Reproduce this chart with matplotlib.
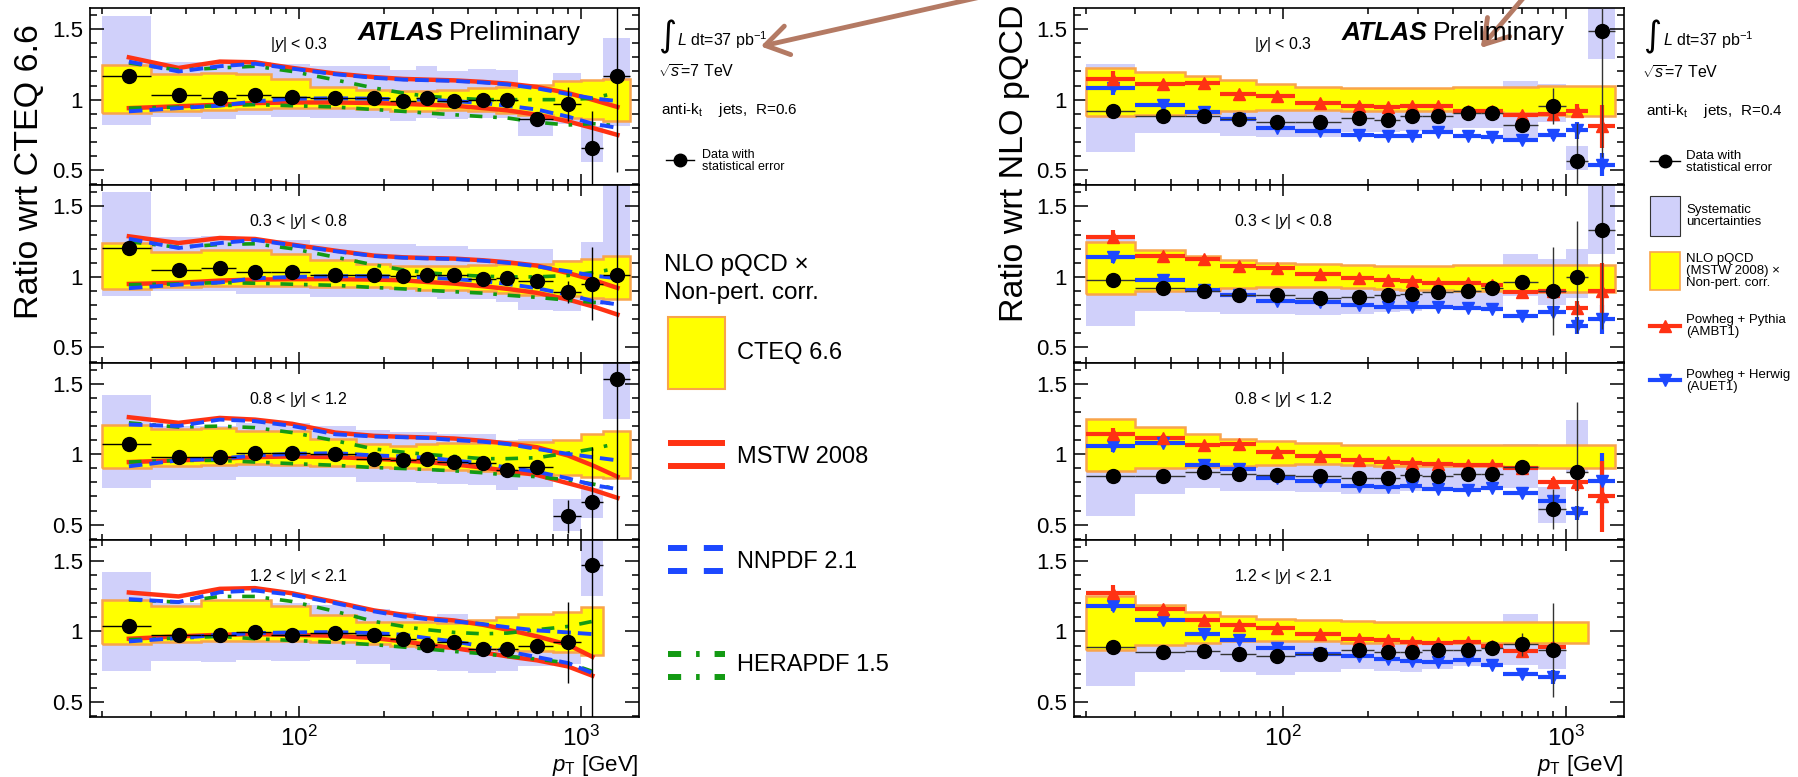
import numpy as np
import matplotlib
matplotlib.use("Agg")
import matplotlib.pyplot as plt
from matplotlib.ticker import FixedLocator, MultipleLocator, NullFormatter, FuncFormatter, LogLocator
from matplotlib.patches import Rectangle, FancyArrowPatch

nan = np.nan

# pT bins (GeV)
edges = [20, 30, 45, 60, 80, 110, 160, 210, 260, 310, 400, 500, 600, 800, 1000, 1200, 1500]
rap_labels = ["|$y$| < 0.3", "0.3 < |$y$| < 0.8", "0.8 < |$y$| < 1.2", "1.2 < |$y$| < 2.1"]

# ---------------- left: anti-kt R=0.6, ratio wrt CTEQ 6.6 ----------------
data_L = [
    [1.17, 1.03, 1.01, 1.035, 1.02, 1.01, 1.01, 0.99, 1.01, 0.99, 1.0, 1.0, 0.865, 0.97, 0.66, 1.17],
    [1.205, 1.052, 1.061, 1.035, 1.035, 1.017, 1.01, 1.005, 1.01, 1.014, 0.986, 0.99, 0.974, 0.894, 0.953, 1.01],
    [1.072, 0.979, 0.979, 1.007, 1.007, 1.002, 0.963, 0.961, 0.963, 0.944, 0.938, 0.891, 0.91, 0.558, 0.662, 1.53],
    [1.035, 0.976, 0.972, 0.995, 0.972, 0.988, 0.972, 0.948, 0.901, 0.922, 0.877, 0.877, 0.899, 0.922, 1.47, nan],
]
stat_L = [
    [.01] * 12 + [0.03, 0.12, 0.26, 0.68],
    [.01] * 12 + [0.03, 0.08, 0.26, 0.65],
    [.01] * 12 + [0.03, 0.12, 0.39, 1.2],
    [.01] * 12 + [0.03, 0.29, 1.1, nan],
]
sys_lo_L = [
    [0.82, 0.88, 0.86, 0.89, 0.88, 0.87, 0.87, 0.85, 0.87, 0.86, 0.87, 0.87, 0.74, 0.83, 0.56, 0.81],
    [0.868, 0.9, 0.9, 0.88, 0.88, 0.858, 0.858, 0.858, 0.858, 0.84, 0.84, 0.82, 0.764, 0.76, 0.8, 0.84],
    [0.76, 0.817, 0.817, 0.84, 0.84, 0.84, 0.806, 0.8, 0.794, 0.79, 0.782, 0.748, 0.766, 0.458, 0.55, 1.25],
    [0.717, 0.788, 0.785, 0.795, 0.788, 0.8, 0.771, 0.729, 0.729, 0.717, 0.705, 0.717, 0.752, 0.77, 1.25, nan],
]
sys_hi_L = [
    [1.59, 1.27, 1.26, 1.27, 1.25, 1.24, 1.24, 1.21, 1.24, 1.2, 1.22, 1.21, 1.02, 1.19, 0.81, 1.44],
    [1.6, 1.28, 1.29, 1.26, 1.26, 1.23, 1.23, 1.23, 1.22, 1.22, 1.2, 1.2, 1.2, 1.12, 1.25, 1.7],
    [1.42, 1.2, 1.2, 1.22, 1.22, 1.2, 1.17, 1.16, 1.16, 1.14, 1.14, 1.1, 1.11, 0.683, 0.76, 1.7],
    [1.42, 1.2, 1.2, 1.2, 1.2, 1.19, 1.16, 1.14, 1.1, 1.12, 1.06, 1.06, 1.07, 1.1, 1.7, nan],
]
cteq_hi = [
    [1.245, 1.18, 1.19, 1.185, 1.15, 1.09, 1.066, 1.06, 1.06, 1.07, 1.08, 1.09, 1.107, 1.13, 1.14, 1.15],
    [1.24, 1.18, 1.19, 1.19, 1.16, 1.12, 1.094, 1.08, 1.08, 1.08, 1.087, 1.09, 1.09, 1.11, 1.13, 1.15],
    [1.21, 1.176, 1.188, 1.164, 1.164, 1.106, 1.072, 1.06, 1.072, 1.076, 1.076, 1.083, 1.083, 1.1, 1.14, 1.164],
    [1.224, 1.177, 1.224, 1.224, 1.18, 1.118, 1.07, 1.07, 1.07, 1.06, 1.08, 1.1, 1.12, 1.14, 1.17, nan],
]
cteq_lo = [
    [0.905, 0.92, 0.93, 0.935, 0.94, 0.94, 0.935, 0.92, 0.92, 0.93, 0.92, 0.905, 0.89, 0.87, 0.86, 0.85],
    [0.915, 0.927, 0.934, 0.934, 0.934, 0.93, 0.927, 0.92, 0.91, 0.906, 0.899, 0.887, 0.875, 0.863, 0.851, 0.844],
    [0.905, 0.914, 0.921, 0.928, 0.921, 0.917, 0.91, 0.905, 0.898, 0.891, 0.882, 0.868, 0.859, 0.852, 0.84, 0.829],
    [0.913, 0.922, 0.929, 0.934, 0.929, 0.922, 0.913, 0.899, 0.889, 0.882, 0.875, 0.866, 0.858, 0.851, 0.835, nan],
]
mstw_up = [
    [1.30, 1.225, 1.27, 1.265, 1.225, 1.185, 1.16, 1.147, 1.142, 1.137, 1.126, 1.114, 1.09, 1.047, 1.0, 0.948],
    [1.288, 1.24, 1.276, 1.269, 1.229, 1.186, 1.151, 1.139, 1.134, 1.13, 1.118, 1.104, 1.08, 1.028, 0.98, 0.922],
    [1.262, 1.222, 1.257, 1.245, 1.215, 1.153, 1.13, 1.123, 1.118, 1.111, 1.095, 1.076, 1.049, 0.991, 0.921, 0.84],
    [1.276, 1.248, 1.302, 1.307, 1.27, 1.208, 1.149, 1.118, 1.094, 1.078, 1.047, 1.012, 0.965, 0.906, 0.82],
]
mstw_lo = [
    [0.94, 0.953, 0.964, 0.976, 0.98, 0.98, 0.976, 0.97, 0.964, 0.957, 0.94, 0.924, 0.893, 0.846, 0.8, 0.75],
    [0.95, 0.958, 0.974, 0.981, 0.984, 0.984, 0.981, 0.976, 0.964, 0.953, 0.934, 0.915, 0.887, 0.84, 0.792, 0.733],
    [0.944, 0.956, 0.968, 0.979, 0.984, 0.979, 0.968, 0.956, 0.944, 0.928, 0.905, 0.882, 0.852, 0.794, 0.748, 0.69],
    [0.948, 0.965, 0.976, 0.981, 0.976, 0.969, 0.953, 0.929, 0.906, 0.882, 0.851, 0.823, 0.795, 0.752, 0.686],
]
nnpdf_up = [
    [1.27, 1.2, 1.237, 1.255, 1.22, 1.18, 1.155, 1.142, 1.138, 1.133, 1.122, 1.108, 1.08, 1.04, 1.01, 0.99],
    [1.27, 1.205, 1.24, 1.262, 1.225, 1.182, 1.148, 1.136, 1.131, 1.127, 1.115, 1.1, 1.075, 1.04, 1.01, 0.99],
    [1.21, 1.2, 1.245, 1.234, 1.2, 1.141, 1.125, 1.12, 1.115, 1.1, 1.088, 1.072, 1.037, 1.002, 0.979, 0.956],
    [1.229, 1.208, 1.278, 1.29, 1.26, 1.2, 1.142, 1.106, 1.087, 1.071, 1.052, 1.03, 1.007, 0.993, 0.981],
]
nnpdf_lo = [
    [0.917, 0.94, 0.957, 0.988, 1.007, 1.01, 1.007, 1.0, 1.0, 0.99, 0.976, 0.957, 0.93, 0.88, 0.83, 0.80],
    [0.92, 0.945, 0.96, 0.99, 1.0, 1.005, 1.005, 1.0, 0.995, 0.985, 0.97, 0.95, 0.92, 0.875, 0.83, 0.805],
    [0.914, 0.956, 0.968, 0.991, 1.002, 1.007, 0.991, 0.984, 0.975, 0.956, 0.933, 0.905, 0.875, 0.829, 0.782, 0.752],
    [0.929, 0.953, 0.976, 0.988, 0.993, 0.995, 0.988, 0.976, 0.953, 0.929, 0.894, 0.858, 0.818, 0.776, 0.705],
]
hera_up = [
    [1.26, 1.21, 1.225, 1.237, 1.2, 1.14, 1.083, 1.047, 1.024, 1.012, 1.0, 1.0, 1.0, 1.0, 1.01, 1.05],
    [1.25, 1.21, 1.23, 1.235, 1.2, 1.14, 1.085, 1.05, 1.03, 1.015, 1.005, 1.0, 1.0, 1.01, 1.03, 1.06],
    [1.222, 1.192, 1.199, 1.188, 1.153, 1.095, 1.037, 1.014, 0.998, 0.984, 0.968, 0.968, 0.975, 1.007, 1.037, 1.076],
    [1.224, 1.208, 1.248, 1.248, 1.212, 1.142, 1.071, 1.035, 1.012, 0.993, 0.983, 0.988, 1.012, 1.035, 1.071],
]
hera_lo = [
    [0.94, 0.947, 0.957, 0.965, 0.957, 0.948, 0.93, 0.917, 0.905, 0.893, 0.88, 0.87, 0.84, 0.82, 0.83, 0.815],
    [0.945, 0.95, 0.96, 0.955, 0.948, 0.94, 0.925, 0.915, 0.905, 0.895, 0.885, 0.87, 0.855, 0.835, 0.82, 0.81],
    [0.944, 0.956, 0.956, 0.944, 0.933, 0.921, 0.905, 0.898, 0.891, 0.882, 0.868, 0.852, 0.84, 0.817, 0.789, 0.752],
    [0.941, 0.953, 0.965, 0.948, 0.936, 0.922, 0.906, 0.889, 0.875, 0.858, 0.842, 0.823, 0.804, 0.776, 0.717],
]

# ---------------- right: anti-kt R=0.4, ratio wrt NLO pQCD (MSTW 2008) ----------------
data_R = [
    [0.922, 0.887, 0.887, 0.863, 0.84, 0.84, 0.87, 0.854, 0.887, 0.887, 0.906, 0.906, 0.817, 0.956, 0.567, 1.49],
    [0.98, 0.92, 0.9, 0.87, 0.87, 0.85, 0.86, 0.87, 0.88, 0.89, 0.9, 0.92, 0.965, 0.9, 1.0, 1.33],
    [0.842, 0.842, 0.877, 0.858, 0.853, 0.847, 0.83, 0.83, 0.853, 0.847, 0.86, 0.86, 0.907, 0.612, 0.872, nan],
    [0.887, 0.851, 0.858, 0.842, 0.823, 0.842, 0.866, 0.852, 0.851, 0.865, 0.866, 0.885, 0.908, 0.868, nan, nan],
]
stat_R = [
    [.01] * 12 + [0.02, 0.13, 0.27, 0.9],
    [.01] * 12 + [0.03, 0.31, 0.4, 0.7],
    [.01] * 12 + [0.03, 0.14, 0.5, nan],
    [.01] * 12 + [0.08, 0.33, nan, nan],
]
sys_lo_R = [
    [0.627, 0.764, 0.764, 0.745, 0.736, 0.736, 0.769, 0.77, 0.78, 0.788, 0.8, 0.8, 0.71, 0.84, 0.5, 1.29],
    [0.65, 0.76, 0.75, 0.74, 0.74, 0.73, 0.74, 0.75, 0.76, 0.77, 0.78, 0.79, 0.865, 0.8, 0.85, 1.16],
    [0.563, 0.714, 0.76, 0.737, 0.737, 0.73, 0.714, 0.714, 0.737, 0.737, 0.737, 0.76, 0.76, 0.51, 0.865, nan],
    [0.616, 0.71, 0.724, 0.71, 0.693, 0.71, 0.733, 0.717, 0.71, 0.733, 0.752, 0.752, 0.764, 0.73, nan, nan],
]
sys_hi_R = [
    [1.25, 1.03, 1.02, 0.99, 0.96, 0.96, 0.99, 0.97, 1.0, 1.0, 1.04, 1.04, 1.13, 1.11, 0.67, 1.7],
    [1.3, 1.08, 1.05, 1.01, 1.0, 0.98, 1.0, 1.01, 1.02, 1.03, 1.05, 1.06, 1.16, 1.13, 1.2, 1.7],
    [1.12, 0.98, 1.0, 0.98, 0.97, 0.96, 0.95, 0.95, 0.97, 0.96, 0.98, 0.98, 1.07, 0.77, 1.24, nan],
    [1.16, 0.99, 0.99, 0.97, 0.95, 0.97, 1.0, 0.99, 0.99, 1.0, 1.0, 1.02, 1.12, 1.05, nan, nan],
]
mstw_band_hi = [
    [1.224, 1.193, 1.165, 1.142, 1.113, 1.09, 1.083, 1.083, 1.083, 1.083, 1.087, 1.087, 1.09, 1.1, 1.1, 1.1],
    [1.25, 1.19, 1.15, 1.12, 1.1, 1.09, 1.085, 1.08, 1.08, 1.08, 1.085, 1.085, 1.085, 1.085, 1.085, 1.085],
    [1.249, 1.19, 1.144, 1.109, 1.09, 1.079, 1.067, 1.067, 1.065, 1.065, 1.065, 1.065, 1.065, 1.066, 1.066, 1.066],
    [1.252, 1.189, 1.137, 1.106, 1.09, 1.078, 1.071, 1.066, 1.066, 1.066, 1.066, 1.066, 1.066, 1.066, 1.066, nan],
]
mstw_band_lo = [
    [0.882, 0.894, 0.906, 0.917, 0.925, 0.925, 0.917, 0.917, 0.917, 0.917, 0.91, 0.91, 0.906, 0.89, 0.886, 0.886],
    [0.88, 0.9, 0.91, 0.92, 0.925, 0.925, 0.92, 0.915, 0.91, 0.905, 0.9, 0.9, 0.895, 0.89, 0.89, 0.89],
    [0.884, 0.9, 0.907, 0.916, 0.923, 0.93, 0.923, 0.916, 0.916, 0.916, 0.916, 0.916, 0.907, 0.9, 0.9, 0.9],
    [0.866, 0.906, 0.917, 0.929, 0.929, 0.929, 0.917, 0.917, 0.917, 0.917, 0.917, 0.917, 0.917, 0.917, 0.917, nan],
]
pythia = [
    [1.146, 1.113, 1.118, 1.042, 1.024, 0.976, 0.958, 0.946, 0.953, 0.953, 0.917, 0.917, 0.894, 0.90, 0.92, 0.81],
    [1.28, 1.15, 1.13, 1.08, 1.06, 1.02, 0.99, 0.98, 0.97, 0.96, 0.96, 0.94, 0.89, 0.9, 0.78, 0.9],
    [1.144, 1.116, 1.063, 1.074, 1.016, 0.986, 0.958, 0.947, 0.94, 0.93, 0.923, 0.923, 0.9, 0.8, 0.8, 0.7],
    [1.271, 1.158, 1.083, 1.042, 1.024, 0.983, 0.946, 0.938, 0.922, 0.92, 0.922, 0.9, 0.858, 0.887, nan, nan],
]
pythia_err = [
    [0.06, 0.02] + [0.015] * 10 + [0.02, 0.03, 0.05, 0.15],
    [0.05, 0.02] + [0.015] * 10 + [0.02, 0.03, 0.05, 0.2],
    [0.04, 0.02] + [0.015] * 10 + [0.02, 0.03, 0.06, 0.25],
    [0.06, 0.02] + [0.015] * 10 + [0.02, 0.04, nan, nan],
]
herwig = [
    [1.083, 0.965, 0.91, 0.863, 0.8, 0.776, 0.752, 0.741, 0.741, 0.769, 0.741, 0.736, 0.717, 0.752, 0.784, 0.54],
    [1.14, 0.98, 0.91, 0.87, 0.83, 0.82, 0.8, 0.79, 0.79, 0.79, 0.78, 0.77, 0.723, 0.75, 0.655, 0.698],
    [1.056, 1.079, 0.923, 0.893, 0.83, 0.807, 0.772, 0.767, 0.777, 0.753, 0.749, 0.76, 0.726, 0.667, 0.585, 0.81],
    [1.182, 1.083, 0.983, 0.936, 0.882, 0.842, 0.823, 0.804, 0.788, 0.783, 0.8, 0.764, 0.7, 0.676, nan, nan],
]
herwig_err = [
    [0.05, 0.02] + [0.015] * 10 + [0.02, 0.03, 0.06, 0.08],
    [0.04, 0.02] + [0.015] * 10 + [0.02, 0.03, 0.06, 0.1],
    [0.04, 0.02] + [0.015] * 10 + [0.02, 0.04, 0.05, 0.2],
    [0.04, 0.02] + [0.015] * 10 + [0.02, 0.05, nan, nan],
]

YELLOW = "#FFFF00"
ORANGE = "#F9A44A"
LAV = "#D0D0FA"
RED = "#FF3213"
BLUE = "#1C48FF"
GREEN = "#139A13"
ARROW = "#B47A64"

W, H = 1798, 777
PANEL_H = 177.25

plt.rcParams["font.family"] = ["Liberation Sans", "DejaVu Sans"]
plt.rcParams["mathtext.fontset"] = "custom"
plt.rcParams["mathtext.rm"] = "Liberation Sans"
plt.rcParams["mathtext.it"] = "Liberation Sans:italic"
plt.rcParams["mathtext.bf"] = "Liberation Sans:bold"
plt.rcParams["axes.linewidth"] = 1.2

fig = plt.figure(figsize=(W / 100, H / 100), dpi=100)

edges_a = np.array(edges, float)
centers = 0.5 * (edges_a[:-1] + edges_a[1:])
widths = np.diff(edges_a)


def style_axes(ax, bottom):
    ax.set_xscale("log")
    ax.set_xlim(18.2, 1610)
    ax.set_ylim(0.393, 1.65)
    ax.xaxis.set_major_locator(FixedLocator([100, 1000]))
    ax.xaxis.set_minor_locator(LogLocator(base=10, subs=np.arange(2, 10), numticks=20))
    ax.xaxis.set_minor_formatter(NullFormatter())
    ax.yaxis.set_major_locator(FixedLocator([0.5, 1.0, 1.5]))
    ax.yaxis.set_minor_locator(MultipleLocator(0.1))
    ax.yaxis.set_major_formatter(FuncFormatter(lambda v, p: "%g" % v))
    ax.tick_params(which="both", direction="in", top=True, right=True, width=1.1)
    ax.tick_params(axis="y", which="major", length=10, labelsize=16, pad=5)
    ax.tick_params(axis="y", which="minor", length=5)
    ax.tick_params(axis="x", which="major", length=8, labelsize=17.5, pad=6)
    ax.tick_params(axis="x", which="minor", length=4)
    if bottom:
        ax.set_xticklabels(["$\\mathregular{10^{2}}$", "$\\mathregular{10^{3}}$"])
    else:
        ax.tick_params(axis="x", labelbottom=False)


def nvalid(vals):
    v = np.array(vals, float)
    return int(np.sum(~np.isnan(v)))


def draw_sys(ax, lo, hi):
    lo = np.array(lo, float)
    hi = np.array(hi, float)
    ok = ~np.isnan(lo)
    ax.bar(edges_a[:-1][ok], (hi - lo)[ok], bottom=lo[ok], width=widths[ok], align="edge",
           color=LAV, linewidth=0, zorder=1)


def draw_band(ax, lo, hi):
    n = nvalid(hi)
    ax.stairs(np.array(hi[:n]), edges_a[:n + 1], baseline=np.array(lo[:n]), fill=True,
              facecolor=YELLOW, edgecolor=ORANGE, linewidth=1.8, zorder=2)


def draw_data(ax, vals, err, hcol="k"):
    v = np.array(vals, float)
    ok = ~np.isnan(v)
    c = centers[ok]
    ax.errorbar(c, v[ok], xerr=[c - edges_a[:-1][ok], edges_a[1:][ok] - c], yerr=np.array(err, float)[ok],
                fmt="o", color="k", ecolor=hcol, ms=10, elinewidth=1.0, capsize=0, zorder=7)


# left panels
axL = []
axR = []
for k in range(4):
    top = 8 + k * PANEL_H
    ax = fig.add_axes([90 / W, 1 - (top + PANEL_H) / H, 549 / W, PANEL_H / H])
    style_axes(ax, k == 3)
    draw_sys(ax, sys_lo_L[k], sys_hi_L[k])
    draw_band(ax, cteq_lo[k], cteq_hi[k])
    for up, lo, kw in [
        (mstw_up[k], mstw_lo[k], dict(color=RED, lw=3.2, zorder=3)),
        (hera_up[k], hera_lo[k], dict(color=GREEN, lw=2.6, dashes=(3.5, 3, 1, 3), zorder=4)),
        (nnpdf_up[k], nnpdf_lo[k], dict(color=BLUE, lw=2.8, dashes=(3.5, 1.8), zorder=5)),
    ]:
        n = len(up)
        ax.plot(centers[:n], up, **kw)
        ax.plot(centers[:n], lo, **kw)
    draw_data(ax, data_L[k], stat_L[k])
    ax.text(100, 1.39, rap_labels[k], ha="center", va="center", fontsize=11.5, zorder=8)
    axL.append(ax)

    ax = fig.add_axes([1074 / W, 1 - (top + PANEL_H) / H, 550 / W, PANEL_H / H])
    style_axes(ax, k == 3)
    draw_sys(ax, sys_lo_R[k], sys_hi_R[k])
    draw_band(ax, mstw_band_lo[k], mstw_band_hi[k])
    for vals, err, mk, col in [(herwig[k], herwig_err[k], "v", BLUE), (pythia[k], pythia_err[k], "^", RED)]:
        v = np.array(vals, float)
        ok = ~np.isnan(v)
        c = centers[ok]
        ax.errorbar(c, v[ok], xerr=[c - edges_a[:-1][ok], edges_a[1:][ok] - c],
                    yerr=np.array(err, float)[ok], fmt=mk, color=col, ms=9, elinewidth=3.0,
                    capsize=0, zorder=5)
    draw_data(ax, data_R[k], stat_R[k], hcol="#333333")
    ax.text(100, 1.39, rap_labels[k], ha="center", va="center", fontsize=11.5, zorder=8)
    axR.append(ax)

# overlay in pixel coordinates for labels, legends and arrows
ov = fig.add_axes([0, 0, 1, 1])
ov.set_xlim(0, W)
ov.set_ylim(H, 0)
ov.axis("off")
ov.patch.set_alpha(0)

ov.text(30, 172, "Ratio wrt CTEQ 6.6", rotation=90, ha="center", va="center", fontsize=24.5)
ov.text(1014, 163, "Ratio wrt NLO pQCD", rotation=90, ha="center", va="center", fontsize=24.5)
for xr in (639, 1624):
    ov.text(xr, 765, "$p_{\\mathrm{T}}$ [GeV]", ha="right", va="center", fontsize=16)

fig.canvas.draw()
rend = fig.canvas.get_renderer()
for xr in (581, 1565):
    t = ov.text(xr, 33, "Preliminary", ha="right", va="center", fontsize=19)
    bb = t.get_window_extent(renderer=rend)
    ov.text(bb.x0 - 6, 33, "ATLAS", ha="right", va="center", fontsize=19, fontweight="bold", fontstyle="italic")

# left legend block
ov.text(667, 37, "\u222b", ha="center", va="center", fontsize=25, family="DejaVu Sans")
ov.text(677, 40, "$L$ dt=37 pb$^{-1}$", ha="left", va="center", fontsize=11.5)
ov.text(658, 72, "$\\sqrt{s}$=7 TeV", ha="left", va="center", fontsize=11.5)
ov.text(661, 110, "anti-k$_{\\mathrm{t}}$    jets,  R=0.6", ha="left", va="center", fontsize=11)
ov.plot([666, 694], [160, 160], color="k", lw=1.0)
ov.plot([680], [160], "o", color="k", ms=9)
ov.text(702, 161, "Data with\nstatistical error", ha="left", va="center", fontsize=9, linespacing=1.0)
ov.text(664, 279, "NLO pQCD \u00d7\nNon-pert. corr.", ha="left", va="center", fontsize=17.5, linespacing=1.3)
ov.add_patch(Rectangle((668, 317), 57, 72, facecolor=YELLOW, edgecolor=ORANGE, lw=1.5))
ov.text(737, 353, "CTEQ 6.6", ha="left", va="center", fontsize=17)
for yy in (443, 466):
    ov.plot([668, 725], [yy, yy], color=RED, lw=4.3, solid_capstyle="butt")
    ov.plot([668, 725], [yy + 105, yy + 105], color=BLUE, lw=4.3, dashes=(3.2, 2.8))
    ov.plot([668, 725], [yy + 211, yy + 211], color=GREEN, lw=4.3, dashes=(2.2, 2.5, 0.6, 2.5))
ov.text(737, 457, "MSTW 2008", ha="left", va="center", fontsize=17)
ov.text(737, 562, "NNPDF 2.1", ha="left", va="center", fontsize=17)
ov.text(737, 665, "HERAPDF 1.5", ha="left", va="center", fontsize=17)

# right legend block
ov.text(1652, 37, "\u222b", ha="center", va="center", fontsize=25, family="DejaVu Sans")
ov.text(1663, 40, "$L$ dt=37 pb$^{-1}$", ha="left", va="center", fontsize=11.5)
ov.text(1642, 73, "$\\sqrt{s}$=7 TeV", ha="left", va="center", fontsize=11.5)
ov.text(1646, 111, "anti-k$_{\\mathrm{t}}$    jets,  R=0.4", ha="left", va="center", fontsize=11)
ov.plot([1650, 1680], [161, 161], color="k", lw=1.0)
ov.plot([1665], [161], "o", color="k", ms=9)
ov.text(1686, 162, "Data with\nstatistical error", ha="left", va="center", fontsize=9.5, linespacing=1.0)
ov.add_patch(Rectangle((1650, 196), 30, 40, facecolor=LAV, edgecolor="#333333", lw=0.8))
ov.text(1686, 216, "Systematic\nuncertainties", ha="left", va="center", fontsize=9.5, linespacing=1.0)
ov.add_patch(Rectangle((1650, 252), 30, 38, facecolor=YELLOW, edgecolor=ORANGE, lw=1.2))
ov.text(1686, 271, "NLO pQCD\n(MSTW 2008) \u00d7\nNon-pert. corr.", ha="left", va="center", fontsize=9.5,
        linespacing=1.0)
ov.plot([1650, 1680], [326, 326], color=RED, lw=3.0)
ov.plot([1665], [326], "^", color=RED, ms=9)
ov.text(1686, 326, "Powheg + Pythia\n(AMBT1)", ha="left", va="center", fontsize=9.5, linespacing=1.0)
ov.plot([1650, 1680], [380, 380], color=BLUE, lw=3.0)
ov.plot([1665], [380], "v", color=BLUE, ms=9)
ov.text(1686, 381, "Powheg + Herwig\n(AUET1)", ha="left", va="center", fontsize=9.5, linespacing=1.0)

# annotation arrows
for (x0, y0), (x1, y1) in [((985, -4), (758, 47)), ((1525, -4), (1479, 50))]:
    ov.add_patch(FancyArrowPatch((x0, y0), (x1, y1), arrowstyle="->,head_length=0.55,head_width=0.35",
                                 mutation_scale=30, color=ARROW, lw=3.5, clip_on=False))

fig.savefig("out.png", dpi=100)
